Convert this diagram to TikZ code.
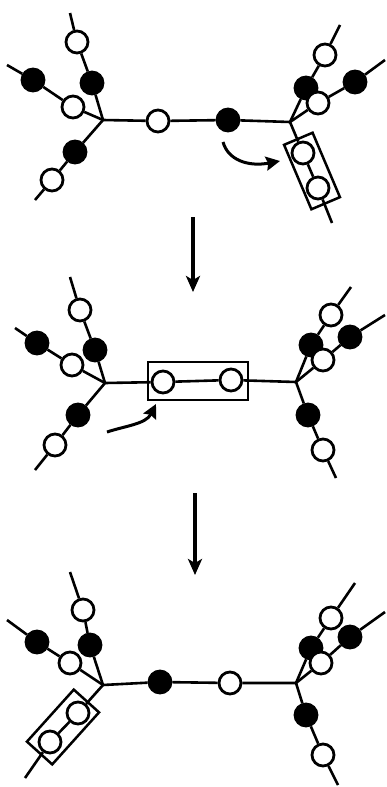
\documentclass[tikz,border=0pt]{standalone}
\usetikzlibrary{arrows.meta}
\tikzset{
  oc/.style={circle,draw,fill=white,line width=2.8pt,minimum size=22pt,inner sep=0pt},
  fc/.style={circle,draw,fill=black,line width=2.8pt,minimum size=22pt,inner sep=0pt},
  ln/.style={line width=2.6pt},
  boxr/.style={rectangle,draw,line width=2.5pt,inner sep=0pt},
  vArrow/.style={line width=3.4pt,-{Stealth[length=16pt,width=14pt,inset=4pt]}},
  cArrow/.style={line width=3pt,-{Stealth[length=14pt,width=14pt,inset=2pt]}}
}
\begin{document}
\begin{tikzpicture}[x=1pt,y=-1pt]
\useasboundingbox (0,0) rectangle (386,787);
% ---------- Panel 1 ----------
\coordinate (A1) at (103,120);
\coordinate (B1) at (290,122);
\node[fc] (a1u1) at (92,83) {};
\node[oc] (a1u2) at (77,42) {};
\coordinate (a1ue) at (70,13);
\node[oc] (a1l1) at (73,107) {};
\node[fc] (a1l2) at (33,80) {};
\coordinate (a1le) at (7,65);
\node[fc] (a1d1) at (75,152) {};
\node[oc] (a1d2) at (52,180) {};
\coordinate (a1de) at (35,200);
\node[oc] (m1a) at (158,121) {};
\node[fc] (m1b) at (228,120) {};
\node[fc] (b1u1) at (306,88) {};
\node[oc] (b1u2) at (325,55) {};
\coordinate (b1ue) at (340,25);
\node[oc] (b1r1) at (318,103) {};
\node[fc] (b1r2) at (355,82) {};
\coordinate (b1re) at (385,60);
\node[oc] (b1d1) at (303,153) {};
\node[oc] (b1d2) at (318,188) {};
\coordinate (b1de) at (332,223);
\node[boxr,minimum width=70pt,minimum height=31pt,rotate=-67] (box1) at (312,171) {};
\draw[ln] (A1) -- (a1u1) -- (a1u2) -- (a1ue);
\draw[ln] (A1) -- (a1l1) -- (a1l2) -- (a1le);
\draw[ln] (A1) -- (a1d1) -- (a1d2) -- (a1de);
\draw[ln] (A1) -- (m1a) -- (m1b) -- (B1);
\draw[ln] (B1) -- (b1u1) -- (b1u2) -- (b1ue);
\draw[ln] (B1) -- (b1r1) -- (b1r2) -- (b1re);
\draw[ln] (B1) -- (b1d1) -- (b1d2) -- (b1de);
\coordinate (c1s) at (223,142);
\coordinate (c1e) at (280,161);
\draw[cArrow] (c1s) .. controls (228,160) and (248,167) .. (c1e);
% vertical arrow 1
\coordinate (v1s) at (193,217);
\coordinate (v1e) at (193,292);
\draw[vArrow] (v1s) -- (v1e);
% ---------- Panel 2 ----------
\coordinate (A2) at (105,383);
\coordinate (B2) at (296,382);
\node[fc] (a2u1) at (95,350) {};
\node[oc] (a2u2) at (80,310) {};
\coordinate (a2ue) at (70,277);
\node[oc] (a2l1) at (72,365) {};
\node[fc] (a2l2) at (37,343) {};
\coordinate (a2le) at (15,328);
\node[fc] (a2d1) at (78,415) {};
\node[oc] (a2d2) at (55,445) {};
\coordinate (a2de) at (35,470);
\node[oc] (m2a) at (163,382) {};
\node[oc] (m2b) at (231,380) {};
\node[boxr,minimum width=100pt,minimum height=38pt] (box2) at (198,381) {};
\node[fc] (b2u1) at (311,345) {};
\node[oc] (b2u2) at (331,315) {};
\coordinate (b2ue) at (351,287);
\node[oc] (b2r1) at (323,360) {};
\node[fc] (b2r2) at (350,337) {};
\coordinate (b2re) at (385,315);
\node[fc] (b2d1) at (308,415) {};
\node[oc] (b2d2) at (323,450) {};
\coordinate (b2de) at (336,478);
\draw[ln] (A2) -- (a2u1) -- (a2u2) -- (a2ue);
\draw[ln] (A2) -- (a2l1) -- (a2l2) -- (a2le);
\draw[ln] (A2) -- (a2d1) -- (a2d2) -- (a2de);
\draw[ln] (A2) -- (m2a) -- (m2b) -- (B2);
\draw[ln] (B2) -- (b2u1) -- (b2u2) -- (b2ue);
\draw[ln] (B2) -- (b2r1) -- (b2r2) -- (b2re);
\draw[ln] (B2) -- (b2d1) -- (b2d2) -- (b2de);
\coordinate (c2s) at (107,432);
\coordinate (c2e) at (156,404);
\draw[cArrow] (c2s) .. controls (125,426) and (146,424) .. (c2e);
% vertical arrow 2
\coordinate (v2s) at (195,493);
\coordinate (v2e) at (195,575);
\draw[vArrow] (v2s) -- (v2e);
% ---------- Panel 3 ----------
\coordinate (A3) at (103,685);
\coordinate (B3) at (296,683);
\node[fc] (a3u1) at (90,645) {};
\node[oc] (a3u2) at (83,610) {};
\coordinate (a3ue) at (70,572);
\node[oc] (a3l1) at (70,663) {};
\node[fc] (a3l2) at (37,642) {};
\coordinate (a3le) at (7,620);
\node[oc] (a3d1) at (78,713) {};
\node[oc] (a3d2) at (50,742) {};
\coordinate (a3de) at (25,778);
\node[boxr,minimum width=70pt,minimum height=34pt,rotate=48] (box3) at (63,727) {};
\node[fc] (m3a) at (160,682) {};
\node[oc] (m3b) at (230,683) {};
\node[fc] (b3u1) at (311,648) {};
\node[oc] (b3u2) at (331,618) {};
\coordinate (b3ue) at (355,583);
\node[oc] (b3r1) at (321,663) {};
\node[fc] (b3r2) at (350,637) {};
\coordinate (b3re) at (385,612);
\node[fc] (b3d1) at (306,715) {};
\node[oc] (b3d2) at (323,755) {};
\coordinate (b3de) at (338,785);
\draw[ln] (A3) -- (a3u1) -- (a3u2) -- (a3ue);
\draw[ln] (A3) -- (a3l1) -- (a3l2) -- (a3le);
\draw[ln] (A3) -- (a3d1) -- (a3d2) -- (a3de);
\draw[ln] (A3) -- (m3a) -- (m3b) -- (B3);
\draw[ln] (B3) -- (b3u1) -- (b3u2) -- (b3ue);
\draw[ln] (B3) -- (b3r1) -- (b3r2) -- (b3re);
\draw[ln] (B3) -- (b3d1) -- (b3d2) -- (b3de);
\end{tikzpicture}
\end{document}
